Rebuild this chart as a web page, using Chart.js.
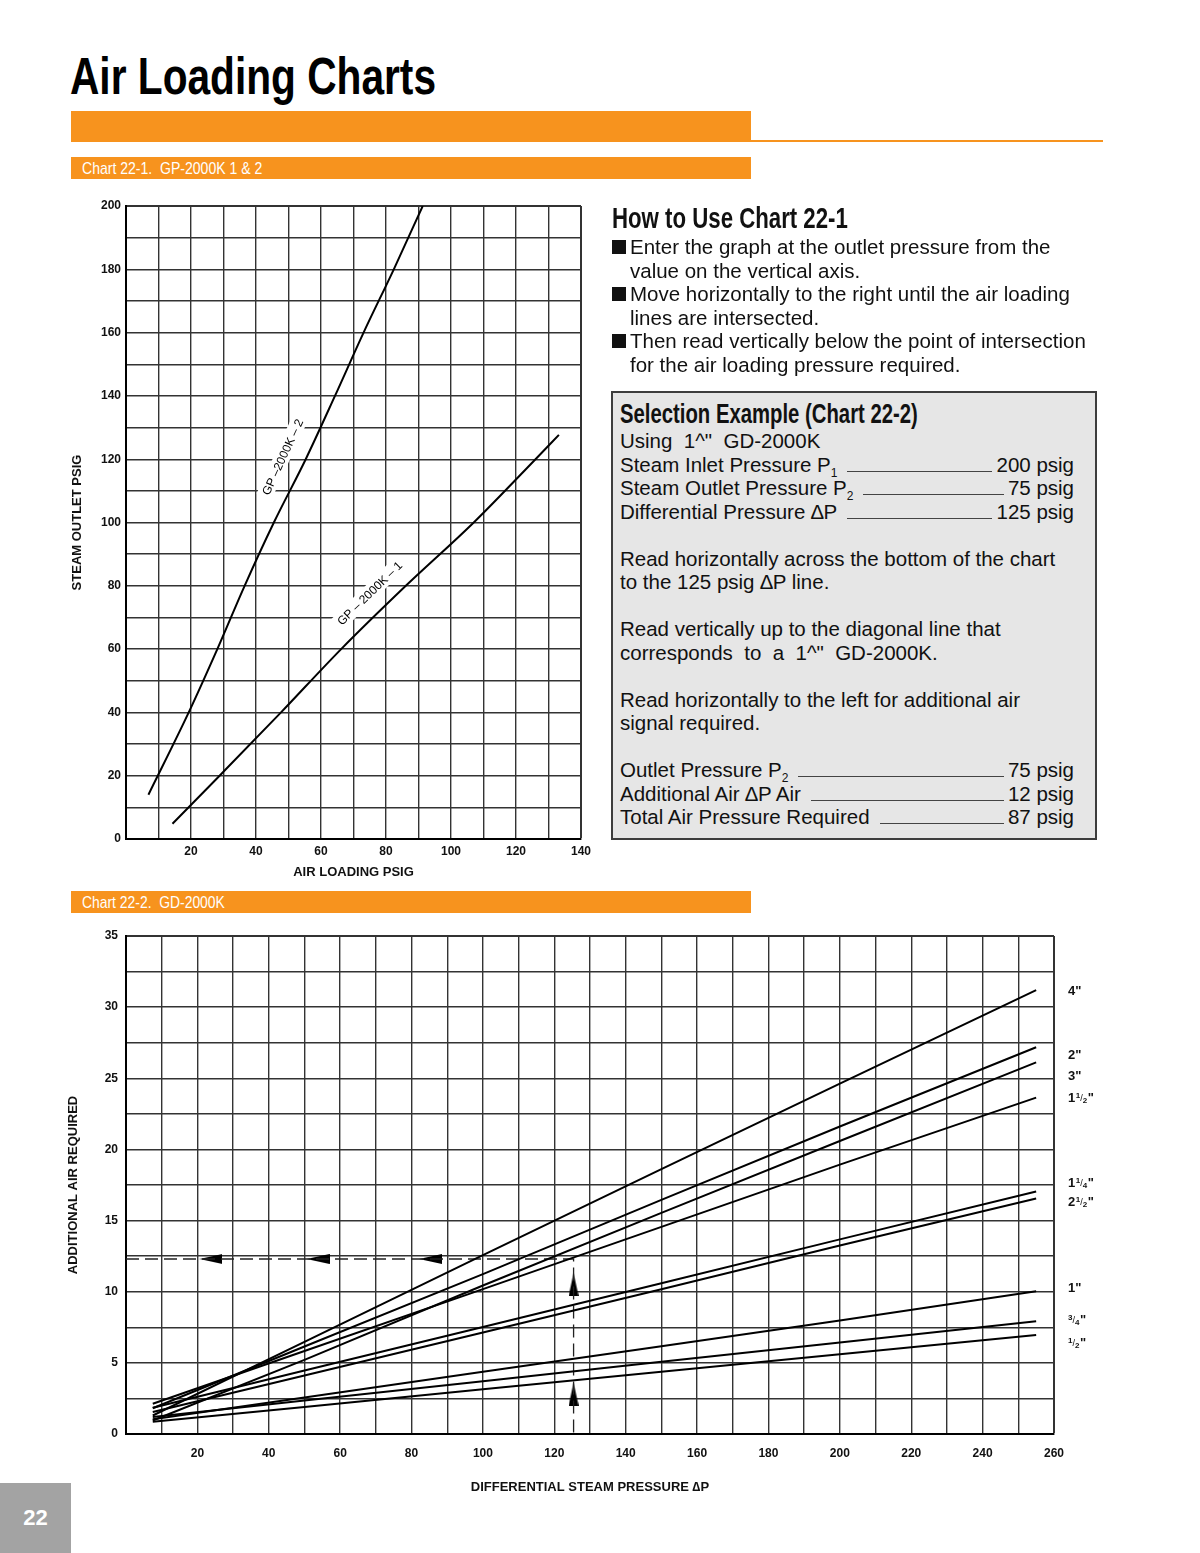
<!DOCTYPE html>
<html>
<head>
<meta charset="utf-8">
<script src="https://cdn.jsdelivr.net/npm/chart.js@4.4.1/dist/chart.umd.min.js"></script>
<style>
body{margin:0;background:#fff;}
#page{position:relative;width:1200px;height:1553px;overflow:hidden;font-family:"Liberation Sans",Arial,sans-serif;color:#111;}
.fit{display:inline-block;white-space:pre;transform-origin:0 50%;}
h1{position:absolute;left:70px;top:50px;margin:0;font-size:52px;line-height:52px;font-weight:bold;color:#000;white-space:nowrap;}
.orange{position:absolute;background:#f7931e;}
.bar{position:absolute;left:71px;width:680px;height:22px;background:#f7931e;color:#fff;font-size:17px;line-height:23px;padding-left:11px;box-sizing:border-box;white-space:pre;}
canvas{position:absolute;}
#howto{position:absolute;left:612px;top:203px;width:500px;}
#howto h2{margin:0;font-size:29px;line-height:30px;font-weight:bold;color:#111;}
#howto ul{list-style:none;margin:2px 0 0;padding:0;font-size:20.5px;line-height:23.5px;}
#howto li{position:relative;padding-left:18px;white-space:nowrap;}
#howto li::before{content:"";position:absolute;left:0;top:5px;width:14px;height:14px;background:#111;}
#box{position:absolute;left:611px;top:391px;width:486px;height:449px;box-sizing:border-box;border:2px solid #3d3d3d;background:#e6e6e6;padding:7px 21px 0 7px;font-size:20.5px;line-height:23.5px;}
#box h3{margin:0 0 1px;font-size:28px;line-height:28px;font-weight:bold;color:#111;}
#box p{margin:23.5px 0 0;white-space:nowrap;}
#box p.first{margin-top:0;}
.row{display:flex;align-items:baseline;white-space:nowrap;}
.lead{flex:1;border-bottom:1px solid #444;margin:0 4px 0 10px;}
sub{font-size:12px;line-height:0;vertical-align:-5px;}
#pageno{position:absolute;left:0;top:1483px;width:71px;height:70px;background:#a3a3a3;color:#fff;font-weight:bold;font-size:22px;line-height:70px;text-align:center;}
</style>
</head>
<body>
<div id="page">
  <h1><span class="fit" data-w="366">Air Loading Charts</span></h1>
  <div class="orange" style="left:71px;top:111px;width:680px;height:31px;"></div>
  <div class="orange" style="left:751px;top:140px;width:352px;height:2px;"></div>
  <div class="bar" style="top:157px;"><span class="fit" data-w="180">Chart 22-1.  GP-2000K 1 &amp; 2</span></div>

  <canvas id="chart1" width="620" height="700" style="left:20px;top:190px;"></canvas>

  <div id="howto">
    <h2><span class="fit" data-w="236">How to Use Chart 22-1</span></h2>
    <ul>
      <li>Enter the graph at the outlet pressure from the<br>value on the vertical axis.</li>
      <li>Move horizontally to the right until the air loading<br>lines are intersected.</li>
      <li>Then read vertically below the point of intersection<br>for the air loading pressure required.</li>
    </ul>
  </div>

  <div id="box">
    <h3><span class="fit" data-w="298">Selection Example (Chart 22-2)</span></h3>
    <p class="first">Using&nbsp; 1^"&nbsp; GD-2000K</p>
    <div class="row"><span>Steam Inlet Pressure P<sub>1</sub></span><span class="lead"></span><span>200 psig</span></div>
    <div class="row"><span>Steam Outlet Pressure P<sub>2</sub></span><span class="lead"></span><span>75 psig</span></div>
    <div class="row"><span>Differential Pressure ∆P</span><span class="lead"></span><span>125 psig</span></div>
    <p>Read horizontally across the bottom of the chart<br>to the 125 psig ∆P line.</p>
    <p>Read vertically up to the diagonal line that<br>corresponds&nbsp; to&nbsp; a&nbsp; 1^"&nbsp; GD-2000K.</p>
    <p>Read horizontally to the left for additional air<br>signal required.</p>
    <p></p>
    <div class="row"><span>Outlet Pressure P<sub>2</sub></span><span class="lead"></span><span>75 psig</span></div>
    <div class="row"><span>Additional Air ∆P Air</span><span class="lead"></span><span>12 psig</span></div>
    <div class="row"><span>Total Air Pressure Required</span><span class="lead"></span><span>87 psig</span></div>
  </div>

  <div class="bar" style="top:891px;"><span class="fit" data-w="143">Chart 22-2.  GD-2000K</span></div>

  <canvas id="chart2" width="1100" height="590" style="left:20px;top:920px;"></canvas>

  <div id="pageno">22</div>
</div>

<script>
// squeeze the condensed headings to the width they have in print
document.querySelectorAll(".fit").forEach(el => {
  el.style.transform = `scaleX(${Number(el.dataset.w) / el.offsetWidth})`;
});

// Chart 22-1 (GP-2000K): air loading psig vs steam outlet psig
const gp1Air = [14.3, 28.8, 47.7, 66.2, 86.1, 107, 126, 133.2];
const gp1Outlet = [4.8, 20, 40, 60, 80, 100, 120, 127.7];
const gp2Air = [6.9, 19.3, 28.1, 36.5, 45.5, 55.3, 64.3, 73.1, 82.4, 91.3];
const gp2Outlet = [14, 40, 60, 80, 100, 120, 140, 160, 180, 200];
const gpNames = ["GP – 2000K – 1", "GP –2000K – 2"];
const gpLabelAir = [74.9, 48.1];
const gpLabelOutlet = [77.7, 120.7];

// Chart 22-2 (GD-2000K): differential steam pressure vs additional air
const dpSteps = [7.5, 50, 100, 150, 200, 255];
const sizeNames = ['4"', '2"', '3"', '1 1/2"', '1 1/4"', '2 1/2"', '1"', '3/4"', '1/2"'];
const air4 = [1.3, 6.47, 12.57, 18.62, 24.63, 31.2];
const air2 = [1.81, 6.15, 11.24, 16.45, 21.61, 27.18];
const air3 = [0.95, 5.21, 10.44, 15.54, 20.59, 26.12];
const air1h = [2.13, 5.83, 10.18, 14.56, 18.93, 23.64];
const air1q = [1.85, 4.46, 7.52, 10.6, 13.68, 17.04];
const air2h = [1.55, 4.11, 7.13, 10.17, 13.25, 16.55];
const air1 = [1.04, 2.57, 4.37, 6.16, 7.98, 10.04];
const air3q = [1.19, 2.35, 3.71, 5.07, 6.43, 7.93];
const airHalf = [0.86, 1.9, 3.14, 4.37, 5.6, 6.95];
const sizeLabelAir = [31.2, 26.7, 25.2, 23.7, 17.7, 16.4, 10.3, 8.1, 6.5];
const exampleDp = 125.4;
const exampleAir = 12.3;
const leftArrowDp = [23.8, 53.8, 85.3];
const upArrowAir = [10.5, 2.8];

const FONT = '"Liberation Sans", Arial, sans-serif';
Chart.defaults.font.family = FONT;
Chart.defaults.color = "#111";

const pts = (xs, ys) => xs.map((x, i) => ({x, y: ys[i]}));
const lineSet = (data, smooth) => ({
  data, showLine: true, borderColor: "#000", borderWidth: 2, pointRadius: 0,
  cubicInterpolationMode: smooth ? "monotone" : "default", tension: 0
});

// arrowhead used for the example path, pointing left
const arrow = document.createElement("canvas");
arrow.width = 23; arrow.height = 10;
(() => {
  const c = arrow.getContext("2d");
  c.fillStyle = "#000";
  c.beginPath(); c.moveTo(0, 5); c.lineTo(23, 0); c.lineTo(23, 10); c.closePath(); c.fill();
})();

function gridWidth(ctx) {
  return ctx.tick && ctx.tick.value === ctx.scale.max ? 2 : 1.4;
}

function axis(min, max, step, every, title, titlePad, fitSize, horizontal, tickPad) {
  return {
    type: "linear", min, max,
    border: {display: true, color: "#000", width: 2},
    grid: {color: "#333", lineWidth: gridWidth, drawTicks: false},
    ticks: {
      stepSize: step, autoSkip: false, maxRotation: 0, padding: tickPad,
      color: "#111", font: {size: 12, weight: "bold"},
      callback: v => (Math.abs(v % every) < 1e-9 && (horizontal ? v > 0 : true)) ? v : ""
    },
    title: {display: true, text: title, color: "#111", font: {size: 13, weight: "bold"}, padding: titlePad},
    afterFit: s => { if (horizontal) s.height = fitSize; else s.width = fitSize; }
  };
}

// labels written along the GP lines, on a white patch
const gpLabelPlugin = {
  id: "gpLabels",
  afterDatasetsDraw(chart) {
    const {ctx, scales: {x, y}} = chart;
    gpNames.forEach((name, i) => {
      const line = chart.data.datasets[i].data;
      let k = line.findIndex(p => p.y >= gpLabelOutlet[i]);
      if (k < 1) k = 1;
      const a = Math.atan2(y.getPixelForValue(line[k].y) - y.getPixelForValue(line[k-1].y),
                           x.getPixelForValue(line[k].x) - x.getPixelForValue(line[k-1].x));
      ctx.save();
      ctx.translate(x.getPixelForValue(gpLabelAir[i]), y.getPixelForValue(gpLabelOutlet[i]));
      ctx.rotate(a);
      ctx.font = "12px " + FONT;
      const w = ctx.measureText(name).width;
      ctx.fillStyle = "#fff";
      ctx.fillRect(-w/2 - 3, -8, w + 6, 16);
      ctx.fillStyle = "#000";
      ctx.textAlign = "center";
      ctx.textBaseline = "middle";
      ctx.fillText(name, 0, 1);
      ctx.restore();
    });
  }
};

function drawSize(ctx, text, x, y) {
  const big = "bold 13px " + FONT, small = "bold 8px " + FONT;
  const base = y + 5;
  const m = text.match(/^(?:(\d+) )?(\d+)\/(\d+)"$/);
  ctx.textAlign = "left";
  ctx.textBaseline = "alphabetic";
  if (!m) { ctx.font = big; ctx.fillText(text, x, base); return; }
  let cx = x;
  if (m[1]) { ctx.font = big; ctx.fillText(m[1], cx, base); cx += ctx.measureText(m[1]).width + 0.5; }
  ctx.font = small; ctx.fillText(m[2], cx, base - 4); cx += ctx.measureText(m[2]).width;
  ctx.font = "9px " + FONT; ctx.fillText("/", cx, base - 1); cx += ctx.measureText("/").width;
  ctx.font = small; ctx.fillText(m[3], cx, base + 1); cx += ctx.measureText(m[3]).width + 0.5;
  ctx.font = big; ctx.fillText('"', cx, base);
}

const sizeLabelPlugin = {
  id: "sizeLabels",
  afterDatasetsDraw(chart) {
    const {ctx, chartArea, scales: {y}} = chart;
    ctx.save();
    ctx.fillStyle = "#111";
    sizeNames.forEach((name, i) => drawSize(ctx, name, chartArea.right + 14, y.getPixelForValue(sizeLabelAir[i])));
    ctx.restore();
  }
};

new Chart(document.getElementById("chart1"), {
  type: "scatter",
  data: {datasets: [lineSet(pts(gp1Air, gp1Outlet), true), lineSet(pts(gp2Air, gp2Outlet), true)]},
  options: {
    responsive: false, animation: false, devicePixelRatio: 1,
    layout: {padding: {top: 16, right: 59, left: 0, bottom: 0}},
    plugins: {legend: {display: false}, tooltip: {enabled: false}},
    scales: {
      x: axis(0, 140, 10, 20, "AIR LOADING PSIG", {top: 0, bottom: 10}, 51, true, 5),
      y: axis(0, 200, 10, 20, "STEAM OUTLET PSIG", {top: 50, bottom: 0}, 106, false, 5)
    }
  },
  plugins: [gpLabelPlugin]
});

const sizeSeries = [air4, air2, air3, air1h, air1q, air2h, air1, air3q, airHalf];
new Chart(document.getElementById("chart2"), {
  type: "scatter",
  data: {datasets: [
    ...sizeSeries.map(s => lineSet(pts(dpSteps, s), false)),
    {data: [{x: 0, y: exampleAir}, {x: exampleDp, y: exampleAir}, {x: exampleDp, y: 0}],
     showLine: true, borderColor: "#222", borderWidth: 1.3, borderDash: [13, 6], pointRadius: 0},
    {data: leftArrowDp.map(x => ({x, y: exampleAir})), pointStyle: arrow, pointRadius: 6, showLine: false},
    {data: upArrowAir.map(y => ({x: exampleDp, y})), pointStyle: arrow, pointRotation: 90, pointRadius: 6, showLine: false}
  ]},
  options: {
    responsive: false, animation: false, devicePixelRatio: 1,
    layout: {padding: {top: 16, right: 66, left: 0, bottom: 0}},
    plugins: {legend: {display: false}, tooltip: {enabled: false}},
    scales: {
      x: axis(0, 260, 10, 20, "DIFFERENTIAL STEAM PRESSURE ∆P", {top: 0, bottom: 15}, 76, true, 12),
      y: axis(0, 35, 2.5, 5, "ADDITIONAL AIR REQUIRED", {top: 46, bottom: 0}, 106, false, 8)
    }
  },
  plugins: [sizeLabelPlugin]
});
</script>
</body>
</html>
